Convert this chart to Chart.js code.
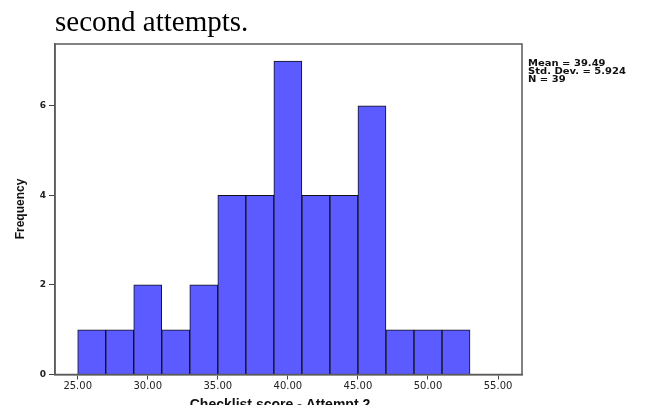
<!DOCTYPE html>
<html>
<head>
<meta charset="utf-8">
<script src="https://cdn.jsdelivr.net/npm/chart.js@4"></script>
<style>
  html, body { margin: 0; padding: 0; background: #fff; }
  #wrap { position: relative; width: 645px; height: 405px; overflow: hidden; }
  #caption {
    position: absolute; left: 55px; top: 5px;
    font-family: "Liberation Serif", serif; font-size: 29px; color: #000;
  }
  canvas { position: absolute; left: 0; top: 0; }
</style>
</head>
<body>
<div id="wrap">
  <canvas id="hist" width="645" height="405"></canvas>
  <div id="caption">second attempts.</div>
</div>
<script>
// histogram bins (centre of each 2-point bin) and counts
const binCenters = [26, 28, 30, 32, 34, 36, 38, 40, 42, 44, 46, 48, 50, 52];
const frequencies = [1, 1, 2, 1, 2, 4, 4, 7, 4, 4, 6, 1, 1, 1];
const xTickValues = [25, 30, 35, 40, 45, 50, 55];
const yTickValues = [0, 2, 4, 6];
const statLines = ["Mean = 39.49", "Std. Dev. = 5.924", "N = 39"];
const xTitle = "Checklist score - Attempt 2";
const yTitle = "Frequency";

// frame, stats box and axis titles
const extras = {
  id: "extras",
  afterDraw(chart) {
    const { ctx, chartArea: a } = chart;
    ctx.save();
    ctx.strokeStyle = "#5a5a5a";
    ctx.lineWidth = 1.5;
    ctx.strokeRect(a.left, a.top, a.right - a.left, a.bottom - a.top);

    // stats text is squat in the original, so squash it vertically a bit
    ctx.fillStyle = "#111";
    ctx.font = "bold 10px 'DejaVu Sans', sans-serif";
    ctx.textBaseline = "alphabetic";
    statLines.forEach((t, i) => {
      ctx.save();
      ctx.translate(a.right + 6, 66 + i * 8);
      ctx.scale(1, 0.8);
      ctx.fillText(t, 0, 0);
      ctx.restore();
    });

    ctx.font = "bold 14px 'Liberation Sans', sans-serif";
    ctx.textAlign = "center";
    ctx.fillText(xTitle, 280, 409);

    ctx.translate(24, 209);
    ctx.rotate(-Math.PI / 2);
    ctx.font = "bold 12px 'Liberation Sans', sans-serif";
    ctx.fillText(yTitle, 0, 0);
    ctx.restore();
  }
};

new Chart(document.getElementById("hist"), {
  type: "bar",
  data: {
    datasets: [{
      data: binCenters.map((x, i) => ({ x, y: frequencies[i] })),
      backgroundColor: "#5b5bff",
      borderColor: "#111",
      borderWidth: 1,
      barPercentage: 1,
      categoryPercentage: 1
    }]
  },
  options: {
    responsive: false,
    animation: false,
    layout: { padding: { top: 44, right: 123, left: 0, bottom: 0 } },
    plugins: { legend: { display: false }, tooltip: { enabled: false } },
    scales: {
      x: {
        type: "linear",
        offset: false,
        min: 23.38,
        max: 56.71,
        afterBuildTicks: s => { s.ticks = xTickValues.map(v => ({ value: v })); },
        afterFit: s => { s.height = 30.5; },
        grid: { display: true, offset: false, drawOnChartArea: false, tickLength: 5, color: "#444" },
        border: { display: true, color: "#5a5a5a", width: 1.5 },
        ticks: {
          autoSkip: false, maxRotation: 0, padding: 1,
          color: "#222",
          font: { family: "'DejaVu Sans', sans-serif", size: 10 },
          callback: v => v.toFixed(2)
        }
      },
      y: {
        min: 0,
        max: 7.38,
        afterBuildTicks: s => { s.ticks = yTickValues.map(v => ({ value: v })); },
        afterFit: s => { s.width = 55; },
        grid: { display: true, drawOnChartArea: false, tickLength: 6, color: "#444" },
        border: { display: true, color: "#5a5a5a", width: 1.5 },
        ticks: {
          padding: 3,
          color: "#222",
          font: { family: "'DejaVu Sans', sans-serif", size: 9, weight: "bold" }
        }
      }
    }
  },
  plugins: [extras]
});
</script>
</body>
</html>
